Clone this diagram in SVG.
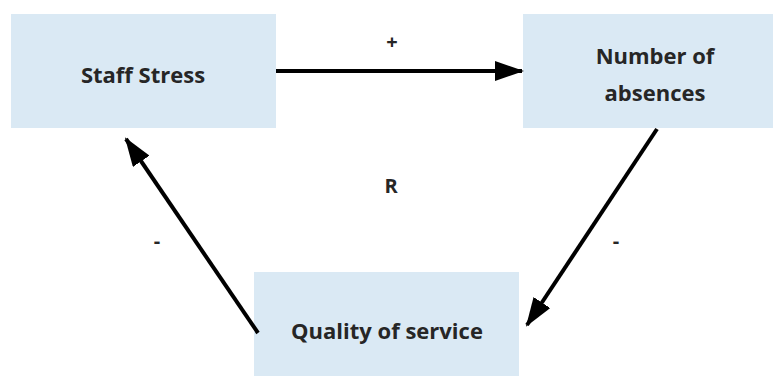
<svg xmlns="http://www.w3.org/2000/svg" width="774" height="376" viewBox="0 0 774 376">
<style>
.box{fill:#dae9f4;}
.t{font-family:"Open Sans","Liberation Sans",sans-serif;font-weight:bold;font-size:22px;fill:#262626;text-anchor:middle;}
.c{stroke:#000;stroke-width:4;fill:none;marker-end:url(#ah);}
.l{font-family:"Open Sans","Liberation Sans",sans-serif;font-weight:bold;font-size:20px;fill:#262626;text-anchor:middle;}
</style>
<defs>
<marker id="ah" markerWidth="7.25" markerHeight="5" refX="6.75" refY="2.5" orient="auto" markerUnits="strokeWidth">
<path d="M0,0 L7.25,2.5 L0,5 Z" fill="#000"/>
</marker>
</defs>
<rect width="774" height="376" fill="#fff"/>
<g id="staff-stress">
<rect class="box" x="11" y="14" width="265" height="114"/>
<text class="t" x="143" y="83">Staff Stress</text>
</g>
<g id="number-of-absences">
<rect class="box" x="523" y="14" width="250" height="114"/>
<text class="t" x="655" y="64">Number of</text>
<text class="t" x="655" y="101">absences</text>
</g>
<g id="quality-of-service">
<rect class="box" x="254" y="272" width="265" height="104"/>
<text class="t" x="387" y="339">Quality of service</text>
</g>
<g id="connectors">
<line class="c" x1="276" y1="71" x2="522" y2="71"/>
<line class="c" x1="657" y1="129" x2="527" y2="325"/>
<line class="c" x1="258" y1="333" x2="126" y2="139"/>
</g>
<g id="labels">
<text class="l" x="392" y="49">+</text>
<text class="l" x="391" y="193">R</text>
<text class="l" x="157" y="248">-</text>
<text class="l" x="616" y="248">-</text>
</g>
</svg>
